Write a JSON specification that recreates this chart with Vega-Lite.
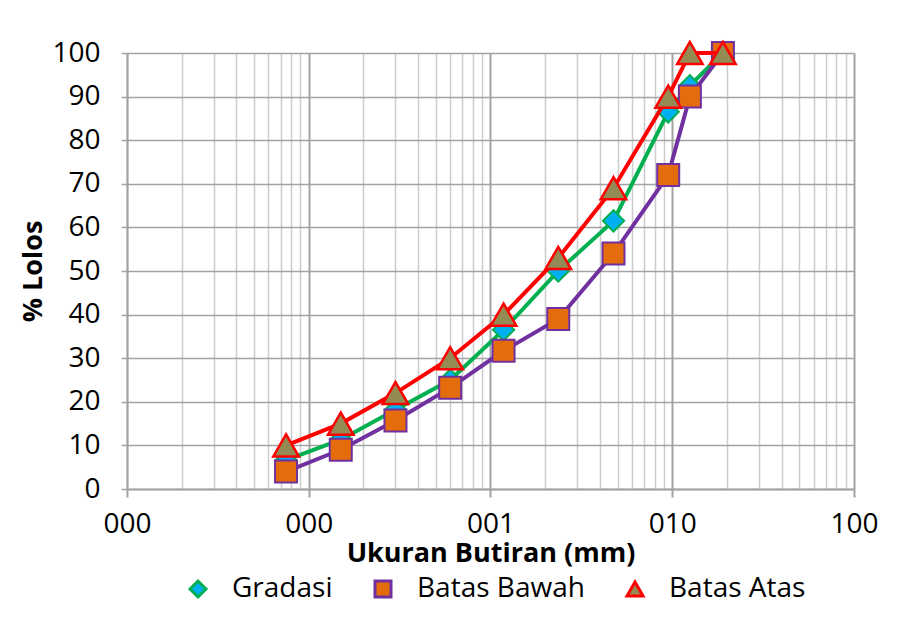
{
  "$schema": "https://vega.github.io/schema/vega-lite/v6.json",
  "width": 727,
  "height": 436,
  "autosize": "none",
  "padding": {"left": 127, "top": 53, "right": 47, "bottom": 134},
  "background": "white",
  "config": {
    "font": "Open Sans",
    "view": {"stroke": null},
    "axis": {"labelColor": "black", "titleColor": "black", "labelFont": "Open Sans", "titleFont": "Open Sans"},
    "legend": {"labelLimit": 0}
  },
  "data": {
    "values": [
      {"series": "Gradasi", "size": 0.075, "pct": 6.6},
      {"series": "Gradasi", "size": 0.15, "pct": 11.3},
      {"series": "Gradasi", "size": 0.3, "pct": 18.2},
      {"series": "Gradasi", "size": 0.6, "pct": 25},
      {"series": "Gradasi", "size": 1.18, "pct": 36.5},
      {"series": "Gradasi", "size": 2.36, "pct": 50},
      {"series": "Gradasi", "size": 4.75, "pct": 61.5},
      {"series": "Gradasi", "size": 9.5, "pct": 86.5},
      {"series": "Gradasi", "size": 12.5, "pct": 92.5},
      {"series": "Gradasi", "size": 19, "pct": 100},
      {"series": "Batas Bawah", "size": 0.075, "pct": 4},
      {"series": "Batas Bawah", "size": 0.15, "pct": 9},
      {"series": "Batas Bawah", "size": 0.3, "pct": 15.7},
      {"series": "Batas Bawah", "size": 0.6, "pct": 23.2},
      {"series": "Batas Bawah", "size": 1.18, "pct": 31.7},
      {"series": "Batas Bawah", "size": 2.36, "pct": 39},
      {"series": "Batas Bawah", "size": 4.75, "pct": 54},
      {"series": "Batas Bawah", "size": 9.5, "pct": 72},
      {"series": "Batas Bawah", "size": 12.5, "pct": 90},
      {"series": "Batas Bawah", "size": 19, "pct": 100},
      {"series": "Batas Atas", "size": 0.075, "pct": 10},
      {"series": "Batas Atas", "size": 0.15, "pct": 15},
      {"series": "Batas Atas", "size": 0.3, "pct": 22},
      {"series": "Batas Atas", "size": 0.6, "pct": 30},
      {"series": "Batas Atas", "size": 1.18, "pct": 40},
      {"series": "Batas Atas", "size": 2.36, "pct": 53},
      {"series": "Batas Atas", "size": 4.75, "pct": 69},
      {"series": "Batas Atas", "size": 9.5, "pct": 90},
      {"series": "Batas Atas", "size": 12.5, "pct": 100},
      {"series": "Batas Atas", "size": 19, "pct": 100}
    ]
  },
  "encoding": {
    "x": {
      "field": "size",
      "type": "quantitative",
      "scale": {"type": "log", "domain": [0.01, 100], "nice": false},
      "axis": {
        "values": [0.01, 0.02, 0.03, 0.04, 0.05, 0.06, 0.07, 0.08, 0.09, 0.1, 0.2, 0.3, 0.4, 0.5, 0.6, 0.7, 0.8, 0.9, 1, 2, 3, 4, 5, 6, 7, 8, 9, 10, 20, 30, 40, 50, 60, 70, 80, 90, 100],
        "labelExpr": "indexof([0.01,0.1,1,10,100], datum.value) >= 0 ? format(datum.value, '03.0f') : ''",
        "labelOverlap": false,
        "labelFlush": false,
        "grid": true,
        "gridColor": {"condition": {"test": "indexof([0.01,0.1,1,10,100], datum.value) >= 0", "value": "#a3a3a3"}, "value": "#cccccc"},
        "gridWidth": {"condition": {"test": "indexof([0.01,0.1,1,10,100], datum.value) >= 0", "value": 2}, "value": 1.5},
        "tickColor": {"condition": {"test": "indexof([0.01,0.1,1,10,100], datum.value) >= 0", "value": "#a3a3a3"}, "value": "transparent"},
        "tickSize": 8,
        "tickWidth": 2,
        "domainColor": "#a3a3a3",
        "domainWidth": 2,
        "labelFontSize": 28,
        "labelPadding": 13,
        "title": "Ukuran Butiran (mm)",
        "titleFontSize": 27,
        "titleFontWeight": "bold",
        "titlePadding": 2
      }
    },
    "y": {
      "field": "pct",
      "type": "quantitative",
      "scale": {"domain": [0, 100], "nice": false},
      "axis": {
        "values": [0, 10, 20, 30, 40, 50, 60, 70, 80, 90, 100],
        "grid": true,
        "gridColor": "#a3a3a3",
        "gridWidth": 1.5,
        "tickSize": 6,
        "tickWidth": 1.5,
        "tickColor": "#a3a3a3",
        "domainColor": "#a3a3a3",
        "domainWidth": 1.5,
        "labelFontSize": 28,
        "labelPadding": 21,
        "title": "% Lolos",
        "titleFontSize": 27,
        "titleFontWeight": "bold",
        "titlePadding": 4
      }
    }
  },
  "layer": [
    {
      "transform": [{"filter": "datum.series === 'Gradasi'"}],
      "mark": {"type": "line", "color": "#00b050", "strokeWidth": 4},
      "encoding": {}
    },
    {
      "transform": [{"filter": "datum.series === 'Gradasi'"}],
      "mark": {"type": "point", "filled": true, "size": 450, "strokeWidth": 2, "opacity": 1},
      "encoding": {
        "shape": {
          "field": "series", "type": "nominal",
          "scale": {"domain": ["Gradasi", "Batas Bawah", "Batas Atas"], "range": ["diamond", "square", "triangle-up"]},
          "legend": {
            "title": null, "orient": "none", "legendX": 57, "legendY": 522, "direction": "horizontal",
            "labelFontSize": 28, "labelFont": "Open Sans", "labelColor": "black", "labelOffset": 20, "columnPadding": 36, "labelLimit": 0,
            "symbolSize": 256, "symbolStrokeWidth": 3
          }
        },
        "fill": {
          "field": "series", "type": "nominal",
          "scale": {"domain": ["Gradasi", "Batas Bawah", "Batas Atas"], "range": ["#00b0f0", "#e46c0a", "#948a54"]}
        },
        "stroke": {
          "field": "series", "type": "nominal",
          "scale": {"domain": ["Gradasi", "Batas Bawah", "Batas Atas"], "range": ["#00b050", "#7030a0", "#ff0000"]}
        }
      }
    },
    {
      "transform": [{"filter": "datum.series === 'Batas Bawah'"}],
      "mark": {"type": "line", "color": "#7030a0", "strokeWidth": 4},
      "encoding": {}
    },
    {
      "transform": [{"filter": "datum.series === 'Batas Bawah'"}],
      "mark": {"type": "point", "filled": true, "size": 484, "strokeWidth": 2, "opacity": 1},
      "encoding": {
        "shape": {"field": "series", "type": "nominal"},
        "fill": {"field": "series", "type": "nominal"},
        "stroke": {"field": "series", "type": "nominal"}
      }
    },
    {
      "transform": [{"filter": "datum.series === 'Batas Atas'"}],
      "mark": {"type": "line", "color": "#ff0000", "strokeWidth": 4},
      "encoding": {}
    },
    {
      "transform": [{"filter": "datum.series === 'Batas Atas'"}],
      "mark": {"type": "point", "filled": true, "size": 650, "strokeWidth": 2.5, "opacity": 1},
      "encoding": {
        "shape": {"field": "series", "type": "nominal"},
        "fill": {"field": "series", "type": "nominal"},
        "stroke": {"field": "series", "type": "nominal"}
      }
    }
  ]
}
